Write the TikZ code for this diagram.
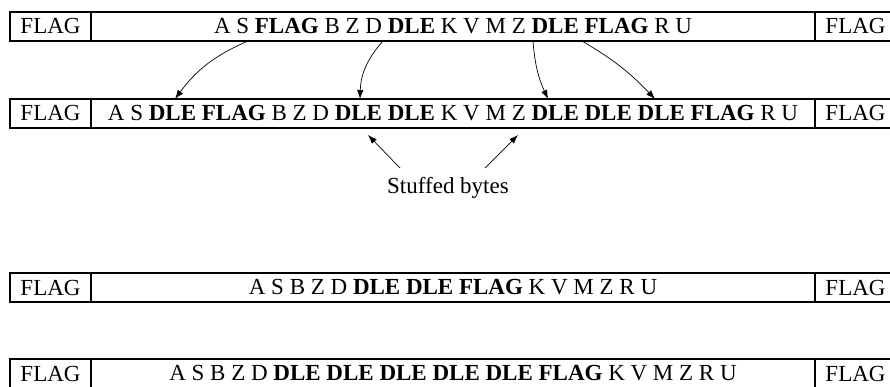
\documentclass[tikz,border=0pt]{standalone}
\usepackage{fontspec}
\setmainfont{Liberation Serif}
\usepackage{tikz}
\usetikzlibrary{positioning,arrows.meta}

\begin{document}
\begin{tikzpicture}[
  font=\fontsize{23}{27}\selectfont,
  node distance=58pt,
  flagbox/.style={draw, line width=1.1pt, inner sep=0pt, outer sep=0pt, minimum width=81pt, minimum height=29pt},
  databox/.style={flagbox, minimum width=724pt},
  arr/.style={-{Latex[length=9pt,width=6.5pt]}, line width=0.7pt}
]
\useasboundingbox (0pt,0pt) rectangle (890pt,-387pt);
\clip (0pt,0pt) rectangle (890pt,-387pt);

% original frame
\node[flagbox, anchor=north west] (fl1) at (10pt,-12pt) {FLAG};
\node[databox, right=0pt of fl1] (d1) {A S \textbf{FLAG} B Z D \textbf{DLE} K V M Z \textbf{DLE} \textbf{FLAG} R U};
\node[flagbox, right=0pt of d1] (fr1) {FLAG};

% after stuffing
\node[flagbox, below=of fl1] (fl2) {FLAG};
\node[databox, right=0pt of fl2] (d2) {A S \textbf{DLE} \textbf{FLAG} B Z D \textbf{DLE} \textbf{DLE} K V M Z \textbf{DLE} \textbf{DLE} \textbf{DLE} \textbf{FLAG} R U};
\node[flagbox, right=0pt of d2] (fr2) {FLAG};

\coordinate (a1) at ([xshift=157pt]d1.south west);
\coordinate (a2) at ([xshift=292pt]d1.south west);
\coordinate (a3) at ([xshift=442pt]d1.south west);
\coordinate (a4) at ([xshift=491pt]d1.south west);
\coordinate (b1) at ([xshift=84pt]d2.north west);
\coordinate (b2) at ([xshift=269pt]d2.north west);
\coordinate (b3) at ([xshift=457pt]d2.north west);
\coordinate (b4) at ([xshift=564pt]d2.north west);

\draw[arr] (a1) to[bend right=15] (b1);
\draw[arr] (a2) to[bend right=20] (b2);
\draw[arr] (a3) to[bend right=10] (b3);
\draw[arr] (a4) to[bend left=8] (b4);

\node (stuffed) at ([shift={(-5pt,-60pt)}]d2.south) {Stuffed bytes};
\coordinate (c1) at ([shift={(-48pt,20pt)}]stuffed.center);
\coordinate (c2) at ([shift={(37pt,20pt)}]stuffed.center);
\coordinate (e1) at ([shift={(277pt,-7pt)}]d2.south west);
\coordinate (e2) at ([shift={(427pt,-7pt)}]d2.south west);
\draw[arr] (c1) -- (e1);
\draw[arr] (c2) -- (e2);

% other frames
\node[flagbox, below=145pt of fl2] (fl3) {FLAG};
\node[databox, right=0pt of fl3] (d3) {A S B Z D \textbf{DLE} \textbf{DLE} \textbf{FLAG} K V M Z R U};
\node[flagbox, right=0pt of d3] (fr3) {FLAG};

\node[flagbox, below=57pt of fl3] (fl4) {FLAG};
\node[databox, right=0pt of fl4] (d4) {A S B Z D \textbf{DLE} \textbf{DLE} \textbf{DLE} \textbf{DLE} \textbf{DLE} \textbf{FLAG} K V M Z R U};
\node[flagbox, right=0pt of d4] (fr4) {FLAG};
\end{tikzpicture}
\end{document}
